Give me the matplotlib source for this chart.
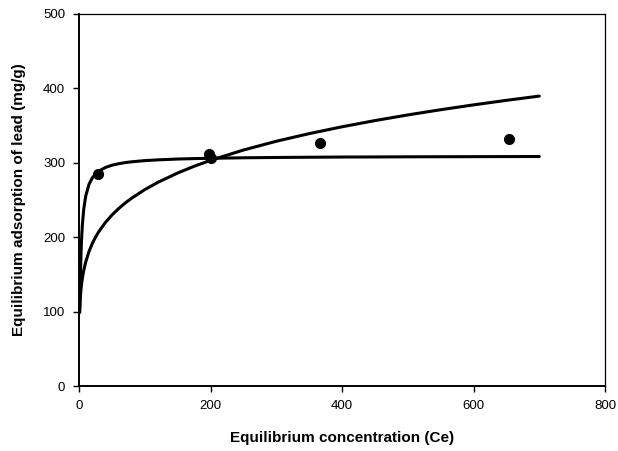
import matplotlib
matplotlib.use("Agg")
import matplotlib.pyplot as plt

# Experimental data
ce_obs = [29, 197, 200, 367, 654]
qe_obs = [285, 311, 306, 326, 332]

# Fitted curves
ce_curve = [1, 1.5, 2, 3, 4, 5, 7, 10, 15, 20, 25, 30, 40, 50, 60, 70, 80, 100, 120, 150,
            175, 200, 250, 300, 350, 400, 450, 500, 550, 600, 650, 700]
q_langmuir = [98.8, 127.8, 149.7, 180.8, 201.7, 216.8, 237.0, 254.8, 270.6, 279.3, 284.8,
              288.5, 293.4, 296.4, 298.4, 299.9, 301.0, 302.6, 303.6, 304.7,
              305.3, 305.7, 306.4, 306.8, 307.1, 307.4, 307.5, 307.7, 307.8, 307.9, 308.0, 308.1]
q_freundlich = [105.0, 113.9, 120.6, 130.8, 138.5, 144.9, 155.0, 166.4, 180.5, 191.2, 199.9,
                207.3, 219.6, 229.6, 238.1, 245.6, 252.2, 263.7, 273.5, 286.0,
                295.0, 303.0, 316.8, 328.6, 338.8, 348.0, 356.3, 363.9, 370.9, 377.4, 383.5, 389.2]

x_ticks = [0, 200, 400, 600, 800]
y_ticks = [0, 100, 200, 300, 400, 500]
x_label = "Equilibrium concentration (Ce)"
y_label = "Equilibrium adsorption of lead (mg/g)"

plt.rcParams['font.family'] = ['Liberation Sans', 'DejaVu Sans']

fig = plt.figure(figsize=(6.18, 4.51), dpi=100)
ax = fig.add_axes([0.128, 0.144, 0.851, 0.826])

ax.plot(ce_curve, q_langmuir, color='black', lw=2.2, solid_capstyle='round',
        solid_joinstyle='round')
ax.plot(ce_curve, q_freundlich, color='black', lw=2.2, solid_capstyle='round',
        solid_joinstyle='round')
ax.plot(ce_obs, qe_obs, 'o', color='black', markersize=7)

ax.set_xlim(0, 800)
ax.set_ylim(0, 500)
ax.set_xticks(x_ticks)
ax.set_yticks(y_ticks)
ax.tick_params(direction='out', length=4, width=1, labelsize=9.5, pad=6)

for side in ['left', 'bottom']:
    ax.spines[side].set_linewidth(1.4)
for side in ['top', 'right']:
    ax.spines[side].set_linewidth(0.9)

ax.set_xlabel(x_label, fontsize=11, fontweight='bold', labelpad=14)
ax.set_ylabel(y_label, fontsize=11, fontweight='bold', labelpad=12)

fig.savefig("out.png", dpi=100)
